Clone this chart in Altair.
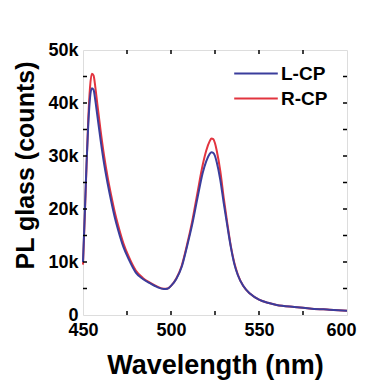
import altair as alt
import pandas as pd

wavelength = [450, 451, 452, 453, 454, 455, 456, 457, 458, 460, 462, 464, 466, 468, 470,
              473, 476, 480, 484, 488, 492, 496, 498, 500, 503, 506, 509, 512, 515, 518,
              520, 522, 523, 524, 525, 526, 528, 530, 532, 534, 536, 538, 541, 545, 550,
              555, 560, 570, 580, 590, 600]
lcp = [10.0, 19.0, 28.5, 36.0, 41.0, 42.8, 42.5, 40.5, 38.0, 33.0, 28.5, 24.8, 21.5, 18.5, 16.0,
       12.8, 10.5, 8.0, 6.8, 6.0, 5.3, 4.9, 4.95, 5.5, 6.8, 9.0, 12.8, 17.0, 22.0, 26.8,
       29.0, 30.4, 30.7, 30.6, 30.0, 28.8, 25.5, 21.0, 16.8, 12.8, 9.6, 7.5, 5.5, 4.0, 2.9,
       2.3, 1.9, 1.5, 1.2, 1.0, 0.8]
rcp = [9.5, 18.5, 28.0, 37.0, 43.0, 45.5, 45.2, 43.0, 40.2, 34.8, 30.0, 26.0, 22.6, 19.5, 16.9,
       13.5, 11.0, 8.4, 7.0, 6.1, 5.4, 4.95, 5.0, 5.5, 6.9, 9.2, 13.1, 17.6, 23.0, 28.3,
       31.0, 32.8, 33.3, 33.2, 32.4, 31.0, 27.2, 22.0, 17.3, 13.0, 9.8, 7.6, 5.5, 4.0, 2.9,
       2.3, 1.9, 1.5, 1.2, 1.0, 0.8]
series = ["L-CP", "R-CP"]
colors = ["#3a3d9c", "#e2343f"]
x_ticks = [450, 475, 500, 525, 550, 575, 600]
y_ticks = [0, 5000, 10000, 15000, 20000, 25000, 30000, 35000, 40000, 45000, 50000]

W, H = 264, 265
FONT = "Liberation Sans"

df_l = pd.DataFrame({"wl": wavelength, "val": [v * 1000 for v in lcp], "pol": "L-CP"})
df_r = pd.DataFrame({"wl": wavelength, "val": [v * 1000 for v in rcp], "pol": "R-CP"})

xscale = alt.Scale(domain=[450, 600], nice=False, zero=False)
yscale = alt.Scale(domain=[0, 50000], nice=False)
cscale = alt.Scale(domain=series, range=colors)

x_enc = alt.X("wl:Q", scale=xscale,
              axis=alt.Axis(title="Wavelength (nm)", values=[450, 500, 550, 600],
                            tickSize=0, domain=False, grid=False, labelPadding=6,
                            labelFontSize=18, labelFont=FONT, labelFontWeight="bold",
                            labelColor="black", labelFlush=False,
                            labelOffset={"condition": {"test": "datum.value == 600", "value": -6},
                                         "value": 0},
                            titleFontSize=27, titleFont=FONT, titleFontWeight="bold",
                            titleColor="black", titleY=58, titleBaseline="alphabetic"))
y_enc = alt.Y("val:Q", scale=yscale,
              axis=alt.Axis(title="PL glass (counts)", values=[0, 10000, 20000, 30000, 40000, 50000],
                            labelExpr="datum.value == 0 ? '0' : (datum.value/1000) + 'k'",
                            tickSize=0, domain=False, grid=False, labelPadding=5,
                            labelFontSize=18, labelFont=FONT, labelFontWeight="bold",
                            labelColor="black", labelFlush=False,
                            titleFontSize=25, titleFont=FONT, titleFontWeight="bold",
                            titleColor="black", titleX=-50, titleY=115,
                            titleAngle=270, titleBaseline="alphabetic", titleAlign="center"))

legend = alt.Legend(title=None, orient="none", legendX=150, legendY=14,
                    symbolType="stroke", symbolSize=1900, symbolStrokeWidth=2.2,
                    labelFontSize=19, labelFont=FONT, labelFontWeight="bold",
                    labelColor="black", rowPadding=5, labelOffset=2, clipHeight=19)

red = alt.Chart(df_r).mark_line(strokeWidth=2, interpolate="monotone").encode(
    x=x_enc, y=y_enc,
    color=alt.Color("pol:N", scale=cscale, legend=legend))
blue = alt.Chart(df_l).mark_line(strokeWidth=2, interpolate="monotone").encode(
    x=alt.X("wl:Q", scale=xscale), y=alt.Y("val:Q", scale=yscale),
    color=alt.Color("pol:N", scale=cscale, legend=legend))

xt = pd.DataFrame({"wl": x_ticks[1:-1]})
yt = pd.DataFrame({"val": y_ticks[1:-1]})
TL = 4
tick_top = alt.Chart(xt).mark_rule(color="black", strokeWidth=1.5).encode(
    x=alt.X("wl:Q", scale=xscale), y=alt.value(0), y2=alt.value(TL))
tick_bot = alt.Chart(xt).mark_rule(color="black", strokeWidth=1.5).encode(
    x=alt.X("wl:Q", scale=xscale), y=alt.value(H), y2=alt.value(H - TL))
tick_left = alt.Chart(yt).mark_rule(color="black", strokeWidth=1.5).encode(
    y=alt.Y("val:Q", scale=yscale), x=alt.value(0), x2=alt.value(TL))
tick_right = alt.Chart(yt).mark_rule(color="black", strokeWidth=1.5).encode(
    y=alt.Y("val:Q", scale=yscale), x=alt.value(W), x2=alt.value(W - TL))

chart = alt.layer(red, blue, tick_top, tick_bot, tick_left, tick_right).properties(
    width=W, height=H,
    autosize=alt.AutoSizeParams(type="none"),
    padding={"left": 75, "top": 42, "right": 10, "bottom": 66},
).configure_view(stroke="black", strokeWidth=2).configure(background="white")

chart.save("out.html", embed_options={"renderer": "svg", "actions": False})
